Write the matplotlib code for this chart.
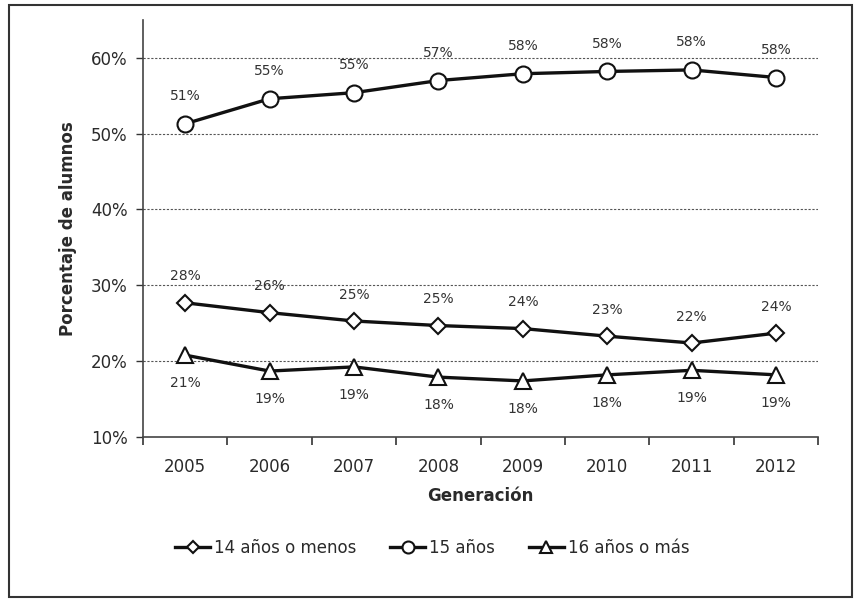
import matplotlib
matplotlib.use("Agg")
import matplotlib.pyplot as plt
import numpy as np
from matplotlib.patches import Rectangle

years = ["2005", "2006", "2007", "2008", "2009", "2010", "2011", "2012"]
menos14 = [27.7, 26.4, 25.3, 24.7, 24.3, 23.3, 22.4, 23.7]
anos15 = [51.3, 54.6, 55.4, 57.0, 57.9, 58.2, 58.4, 57.4]
mas16 = [20.8, 18.7, 19.25, 17.9, 17.4, 18.2, 18.8, 18.2]
labels14 = ["28%", "26%", "25%", "25%", "24%", "23%", "22%", "24%"]
labels15 = ["51%", "55%", "55%", "57%", "58%", "58%", "58%", "58%"]
labels16 = ["21%", "19%", "19%", "18%", "18%", "18%", "19%", "19%"]
yticks = [10, 20, 30, 40, 50, 60]

plt.rcParams["font.family"] = ["DejaVu Sans"]
TXT = "#2a2a2a"

fig = plt.figure(figsize=(8.56, 6.02), dpi=100)
ax = fig.add_axes([0.167, 0.274, 0.789, 0.693])
x = np.arange(len(years))

series = [
    (menos14, "D", 8, "14 años o menos", labels14, 19),
    (anos15, "o", 11.5, "15 años", labels15, 20),
    (mas16, "^", 11, "16 años o más", labels16, -20),
]
for vals, mk, ms, name, labs, off in series:
    ax.plot(x, vals, color="#111111", linewidth=2.4, marker=mk, markersize=ms,
            markerfacecolor="white", markeredgecolor="#111111", markeredgewidth=1.5,
            label=name, zorder=3)
    for xi, v, lab in zip(x, vals, labs):
        ax.annotate(lab, (xi, v), xytext=(0, off), textcoords="offset points",
                    ha="center", va="center", fontsize=10, color="#333333")

for yv in yticks[1:]:
    ax.axhline(yv, color="#555555", linewidth=0.8, linestyle=(0, (2, 1.5)), zorder=1)

ax.set_xlim(-0.5, len(years) - 0.5)
ax.set_ylim(10, 65)
ax.set_yticks(yticks)
ax.set_yticklabels([f"{v}%" for v in yticks], fontsize=12, color=TXT)
ax.set_xticks(np.arange(len(years) + 1) - 0.5)
ax.set_xticklabels([])
ax.set_xticks(x, minor=True)
ax.set_xticklabels(years, minor=True, fontsize=12, color=TXT)
ax.tick_params(axis="x", which="minor", length=0, pad=15)
ax.tick_params(axis="x", which="major", length=6, width=1.2, color="#333333")
ax.tick_params(axis="y", length=5, width=1, color="#333333", pad=6)
for s in ("top", "right"):
    ax.spines[s].set_visible(False)
for s in ("left", "bottom"):
    ax.spines[s].set_color("#444444")
    ax.spines[s].set_linewidth(1.2)

ax.set_xlabel("Generación", fontsize=12, fontweight="bold", color=TXT, labelpad=8)
ax.set_ylabel("Porcentaje de alumnos", fontsize=12, fontweight="bold", color=TXT, labelpad=10)

fig.legend(loc="center", bbox_to_anchor=(0.505, 0.09), ncol=3, frameon=False,
           fontsize=12, handlelength=2.1, handletextpad=0.25, columnspacing=2.0,
           markerscale=0.75, labelcolor=TXT)

fig.patches.append(Rectangle((0.01, 0.008), 0.985, 0.984, transform=fig.transFigure,
                             fill=False, edgecolor="#333333", linewidth=1.5))

fig.savefig("out.png", dpi=100, facecolor="white")
